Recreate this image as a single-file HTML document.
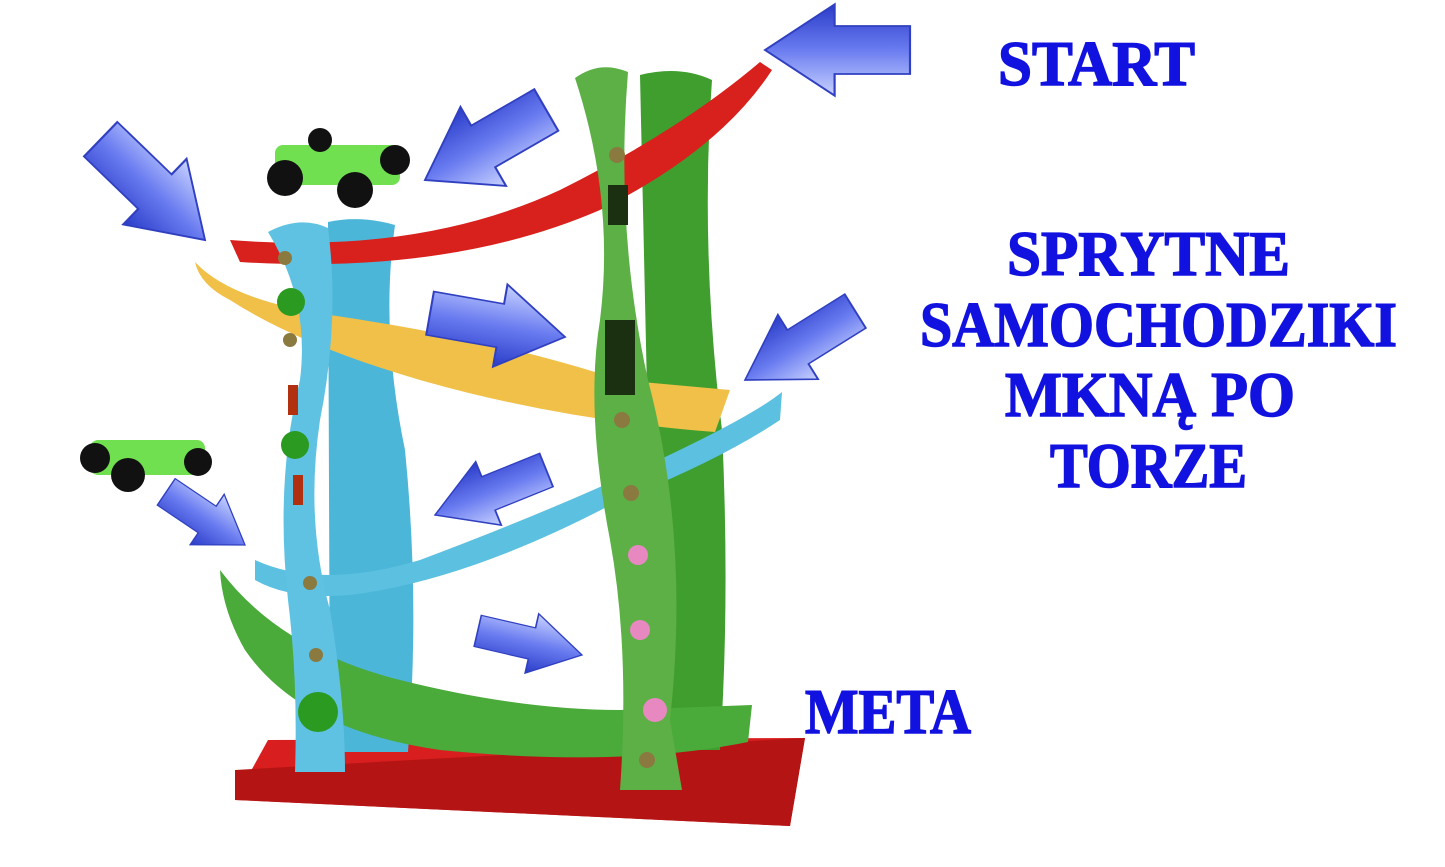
<!DOCTYPE html>
<html><head><meta charset="utf-8"><style>
html,body{margin:0;padding:0;background:#fff;}
svg{display:block}
text{font-family:"Liberation Serif",serif;font-weight:bold;fill:#1212e0;stroke:#1212e0;stroke-width:1.5;}
</style></head><body>
<svg width="1445" height="867" viewBox="0 0 1445 867" xmlns="http://www.w3.org/2000/svg">
<defs>
<linearGradient id="ag" x1="0" y1="0" x2="0" y2="1">
<stop offset="0" stop-color="#c8d2ff"/><stop offset="0.5" stop-color="#6a7cf0"/><stop offset="1" stop-color="#2a3cc8"/>
</linearGradient>
<path id="arr" d="M-100,-20 L-48,-20 L-48,-38 L0,0 L-48,38 L-48,20 L-100,20 Z" fill="url(#ag)" stroke="#3040c0" stroke-width="1.5"/>
</defs>

<!-- base -->
<polygon points="268,740 805,738 790,826 235,800" fill="#d81e1e"/>
<polygon points="235,770 805,738 790,826 235,800" fill="#b51414"/>

<!-- back pillars -->
<path d="M328,222 Q360,215 395,225 Q380,330 405,450 Q420,600 408,752 L330,752 Z" fill="#4cb6d8"/>
<path d="M640,75 Q680,65 712,80 Q700,250 722,430 Q730,600 720,750 L655,750 Z" fill="#3f9e2e"/>

<!-- red track -->
<path d="M230,240 Q420,255 560,190 Q680,130 760,62 L772,70 Q720,150 600,210 Q450,275 240,262 Z" fill="#d8201c"/>
<!-- yellow track -->
<path d="M195,262 Q230,300 330,315 Q500,340 620,380 L730,390 L715,432 Q560,420 420,380 Q300,345 230,300 Q200,285 195,262 Z" fill="#f0c048"/>
<!-- blue track -->
<path d="M255,560 Q320,590 420,560 Q580,500 700,440 Q760,410 782,392 L780,420 Q720,460 620,500 Q470,580 350,595 Q290,600 255,580 Z" fill="#5cc0e0"/>
<!-- green track -->
<path d="M220,570 Q280,650 400,680 Q520,710 620,710 L752,705 L748,742 Q620,768 440,750 Q300,730 245,650 Q222,610 220,570 Z" fill="#4aaa3a"/>

<!-- front pillars -->
<path d="M268,232 Q300,215 328,228 Q340,320 320,420 Q305,520 330,610 Q345,700 345,772 L295,772 Q298,680 288,600 Q275,480 300,380 Q310,300 268,232 Z" fill="#60c2e2"/>
<path d="M575,78 Q600,60 628,72 Q615,230 648,380 Q690,540 670,720 L682,790 L620,790 Q630,650 610,540 Q585,410 600,320 Q615,200 575,78 Z" fill="#5cb046"/>

<!-- screws -->
<g fill="#8a7a40"><circle cx="617" cy="155" r="8"/><circle cx="622" cy="420" r="8"/><circle cx="631" cy="493" r="8"/><circle cx="647" cy="760" r="8"/><circle cx="285" cy="258" r="7"/><circle cx="290" cy="340" r="7"/><circle cx="310" cy="583" r="7"/><circle cx="316" cy="655" r="7"/></g>
<g fill="#2a9a20"><circle cx="291" cy="302" r="14"/><circle cx="295" cy="445" r="14"/><circle cx="318" cy="712" r="20"/></g>
<g fill="#e888c0"><circle cx="638" cy="555" r="10"/><circle cx="640" cy="630" r="10"/><circle cx="655" cy="710" r="12"/></g>
<g fill="#1a3010"><rect x="608" y="185" width="20" height="40"/><rect x="605" y="320" width="30" height="75"/></g>
<g fill="#b03010"><rect x="288" y="385" width="10" height="30"/><rect x="293" y="475" width="10" height="30"/></g>

<!-- cars -->
<g><rect x="275" y="145" width="125" height="40" rx="8" fill="#70e050"/>
<circle cx="285" cy="178" r="18" fill="#111"/><circle cx="355" cy="190" r="18" fill="#111"/><circle cx="395" cy="160" r="15" fill="#111"/><circle cx="320" cy="140" r="12" fill="#111"/></g>
<g><rect x="90" y="440" width="115" height="35" rx="8" fill="#70e050"/>
<circle cx="95" cy="458" r="15" fill="#111"/><circle cx="128" cy="475" r="17" fill="#111"/><circle cx="198" cy="462" r="14" fill="#111"/></g>

<!-- arrows -->
<use href="#arr" transform="translate(765,50) rotate(180) scale(1.45,1.2)"/>
<use href="#arr" transform="translate(425,180) rotate(150) scale(1.4,1.2)"/>
<use href="#arr" transform="translate(205,240) rotate(44) scale(1.45,1.2)"/>
<use href="#arr" transform="translate(565,337) rotate(10) scale(1.37,1.1)"/>
<use href="#arr" transform="translate(745,380) rotate(148) scale(1.3,1.0)"/>
<use href="#arr" transform="translate(435,515) rotate(158) scale(1.2,0.9)"/>
<use href="#arr" transform="translate(245,545) rotate(34) scale(0.95,0.8)"/>
<use href="#arr" transform="translate(582,655) rotate(13) scale(1.07,0.8)"/>

<!-- text -->
<text x="998" y="85" font-size="64" textLength="197" lengthAdjust="spacingAndGlyphs">START</text>
<text x="1007" y="275" font-size="64" textLength="283" lengthAdjust="spacingAndGlyphs">SPRYTNE</text>
<text x="920" y="346" font-size="64" textLength="477" lengthAdjust="spacingAndGlyphs">SAMOCHODZIKI</text>
<text x="1005" y="416" font-size="64" textLength="290" lengthAdjust="spacingAndGlyphs">MKNĄ PO</text>
<text x="1050" y="487" font-size="64" textLength="197" lengthAdjust="spacingAndGlyphs">TORZE</text>
<text x="805" y="733" font-size="64" textLength="166" lengthAdjust="spacingAndGlyphs">META</text>
</svg>
</body></html>
